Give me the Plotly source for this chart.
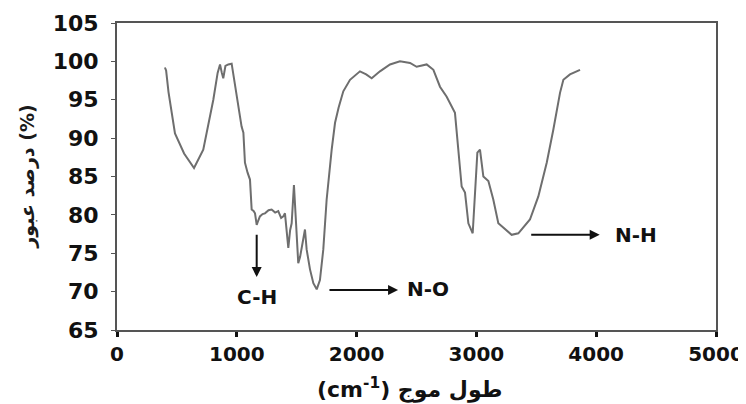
import plotly.graph_objects as go

# IR spectrum
wavenumber = [400, 410, 430, 484, 560, 643, 720, 760, 804, 840, 860, 875, 887, 905, 929, 957,
              985, 1013, 1040, 1055, 1068, 1090, 1110, 1124, 1140, 1152, 1166, 1180, 1193, 1215,
              1235, 1265, 1291, 1320, 1346, 1370, 1388, 1402, 1430, 1445, 1458, 1477, 1490, 1500,
              1513, 1528, 1541, 1555, 1569, 1583, 1611, 1639, 1667, 1694, 1722, 1750, 1778, 1792,
              1820, 1850, 1889, 1945, 2028, 2080, 2126, 2195, 2279, 2362, 2446, 2501, 2585, 2641,
              2696, 2752, 2821, 2849, 2877, 2905, 2933, 2969, 2988, 3008, 3030, 3058, 3100, 3141,
              3183, 3239, 3294, 3350, 3447, 3517, 3587, 3642, 3698, 3726, 3781, 3865]
transmittance = [99.2, 98.8, 96.0, 90.6, 88.0, 86.1, 88.5, 91.5, 95.0, 98.5, 99.6, 98.5, 97.8, 99.4, 99.6, 99.7,
                 97.0, 93.7, 91.5, 90.7, 86.8, 85.5, 84.6, 80.7, 80.5, 80.2, 78.7, 79.3, 79.8, 80.1,
                 80.2, 80.6, 80.7, 80.3, 80.5, 79.6, 79.8, 80.2, 75.7, 78.0, 78.9, 83.9, 80.0, 77.2,
                 73.7, 74.5, 75.5, 77.0, 78.1, 75.5, 72.9, 71.1, 70.3, 71.5, 75.5, 82.0, 86.8, 88.5,
                 92.0, 94.0, 96.1, 97.6, 98.7, 98.3, 97.8, 98.7, 99.6, 100.0, 99.8, 99.3, 99.6, 98.9,
                 96.7, 95.4, 93.3, 88.5, 83.7, 82.9, 78.9, 77.6, 83.3, 88.1, 88.5, 85.0, 84.4, 82.0,
                 78.9, 78.1, 77.4, 77.6, 79.4, 82.4, 86.8, 91.1, 95.9, 97.6, 98.3, 98.9]

x_ticks = [0, 1000, 2000, 3000, 4000, 5000]
y_ticks = [65, 70, 75, 80, 85, 90, 95, 100, 105]

# band labels: (text, arrow tail x, tail y, head x, head y, label x, label y, anchor)
bands = [
    ("C-H", 1166, 77.6, 1166, 71.9, 1170, 69.3, "center"),
    ("N-O", 1761, 70.2, 2346, 70.2, 2400, 70.3, "left"),
    ("N-H", 3445, 77.4, 4029, 77.4, 4140, 77.4, "left"),
]

FONT = "DejaVu Sans"

fig = go.Figure()
fig.add_trace(go.Scatter(x=wavenumber, y=transmittance, mode="lines",
                         line=dict(color="#6e6e6e", width=2), showlegend=False))

annotations = []
for text, tx, ty, hx, hy, lx, ly, anchor in bands:
    annotations.append(dict(x=hx, y=hy, ax=tx, ay=ty, xref="x", yref="y", axref="x", ayref="y",
                            text="", showarrow=True, arrowhead=2, arrowsize=1, arrowwidth=2,
                            arrowcolor="#111111"))
    annotations.append(dict(x=lx, y=ly, xref="x", yref="y", text=text, showarrow=False,
                            xanchor=anchor, yanchor="middle",
                            font=dict(family=FONT, size=20, color="#111111", weight="bold")))

annotations.append(dict(x=-0.150, y=0.5, xref="paper", yref="paper", text="درصد عبور (%)",
                        textangle=-90, showarrow=False, xanchor="center", yanchor="middle",
                        font=dict(family=FONT, size=19, color="#1a1a1a", weight="bold")))
annotations.append(dict(x=0.489, y=-0.189, xref="paper", yref="paper",
                        text="(cm<sup>-1</sup>) طول موج",
                        showarrow=False, xanchor="center", yanchor="middle",
                        font=dict(family=FONT, size=22, color="#111111", weight="bold")))

fig.update_layout(
    width=738, height=396,
    margin=dict(l=109, r=30, t=15, b=74),
    paper_bgcolor="white", plot_bgcolor="white",
    annotations=annotations,
    xaxis=dict(range=[0, 5000], tickvals=x_ticks, showgrid=False, zeroline=False,
               automargin=False,
               showline=True, linecolor="#555555", linewidth=2, mirror=True,
               ticks="outside", ticklen=5, tickwidth=3, tickcolor="#111111",
               tickfont=dict(family=FONT, size=20, color="#111111", weight="bold")),
    yaxis=dict(range=[65, 105], tickvals=y_ticks, showgrid=False, zeroline=False,
               automargin=False,
               showline=True, linecolor="#555555", linewidth=2, mirror=True,
               ticks="outside", ticklen=4, tickwidth=1, tickcolor="#555555",
               ticklabelstandoff=8,
               tickfont=dict(family=FONT, size=22, color="#111111", weight="bold")),
)

fig.write_html("out.html")
